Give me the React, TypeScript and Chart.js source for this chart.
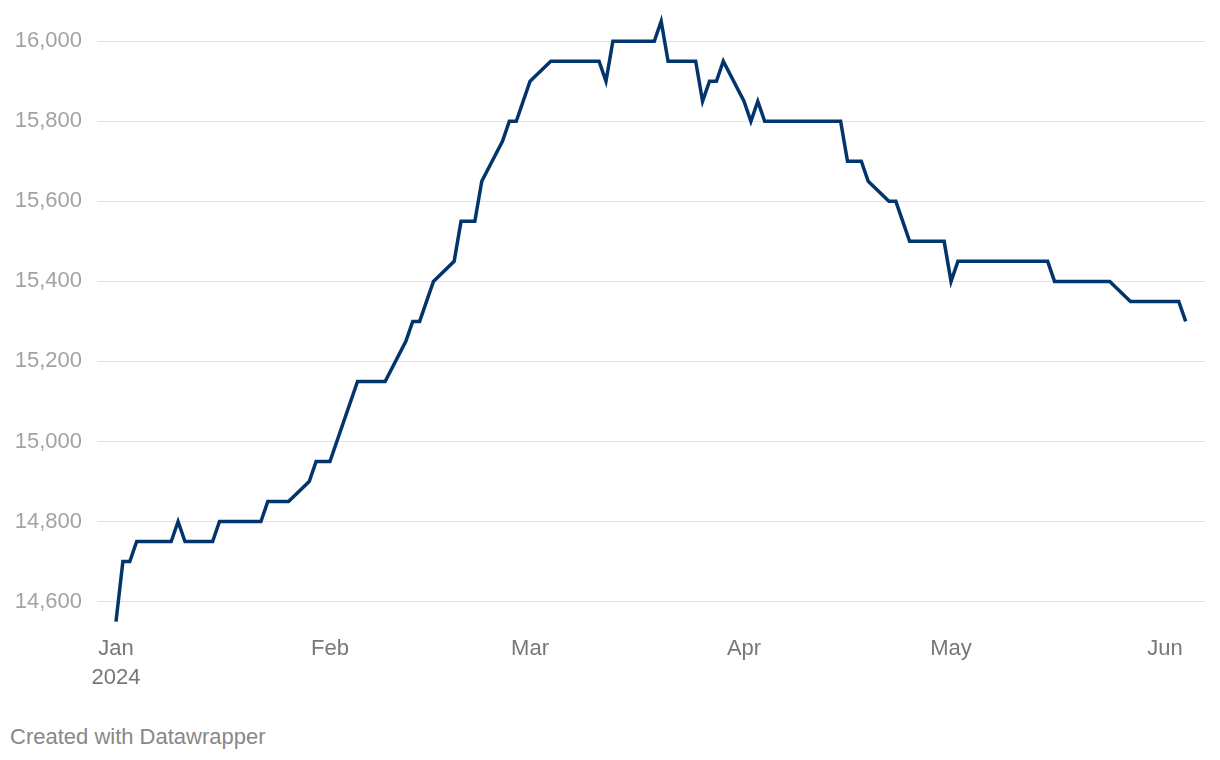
import React, { useEffect, useRef } from "react";
import { Chart, registerables } from "chart.js";

Chart.register(...registerables);

// day index from Jan 1, 2024 (0 = Jan 1)
const days = [
  0, 1, 2, 3, 8, 9, 10, 14, 15, 21, 22, 25, 28, 29, 31, 35, 39, 42, 43, 44, 46, 49, 50, 52, 53, 56, 57, 58,
  60, 63, 70, 71, 72, 78, 79, 80, 84, 85, 86, 87, 88, 91, 92, 93, 94, 105, 106, 108, 109, 112, 113, 115,
  120, 121, 122, 135, 136, 144, 147, 154, 155,
];
const values = [
  14550, 14700, 14700, 14750, 14750, 14800, 14750, 14750, 14800, 14800, 14850, 14850, 14900, 14950, 14950,
  15150, 15150, 15250, 15300, 15300, 15400, 15450, 15550, 15550, 15650, 15750, 15800, 15800,
  15900, 15950, 15950, 15900, 16000, 16000, 16050, 15950, 15950, 15850, 15900, 15900, 15950, 15850, 15800,
  15850, 15800, 15800, 15700, 15700, 15650, 15600, 15600, 15500,
  15500, 15400, 15450, 15450, 15400, 15400, 15350, 15350, 15300,
];
const monthTicks = [0, 31, 60, 91, 121, 152];
const monthLabels = ["Jan", "Feb", "Mar", "Apr", "May", "Jun"];
const yearLabel = "2024";
const yTicks = [14600, 14800, 15000, 15200, 15400, 15600, 15800, 16000];

const FONT = "'Liberation Sans', Arial, Helvetica, sans-serif";

export default function App() {
  const ref = useRef<HTMLCanvasElement | null>(null);
  useEffect(() => {
    if (!ref.current) return;
    const chart = new Chart(ref.current, {
      type: "line",
      data: {
        datasets: [
          {
            data: days.map((d, i) => ({ x: d, y: values[i] })),
            borderColor: "#02356b",
            borderWidth: 3.5,
            pointRadius: 0,
            tension: 0,
            fill: false,
          },
        ],
      },
      options: {
        animation: false,
        responsive: false,
        maintainAspectRatio: false,
        layout: { padding: { left: 0, right: 15, top: 0, bottom: 7 } },
        plugins: { legend: { display: false }, tooltip: { enabled: false } },
        scales: {
          x: {
            type: "linear",
            min: -2.75,
            max: 157.8,
            grid: { display: false, drawTicks: false },
            border: { display: false },
            afterBuildTicks: (scale: any) => {
              scale.ticks = monthTicks.map((v) => ({ value: v }));
            },
            ticks: {
              autoSkip: false,
              maxRotation: 0,
              padding: 8,
              color: "#777777",
              font: { family: FONT, size: 22, lineHeight: 1.35 },
              callback: (v: any) => {
                const i = monthTicks.indexOf(Number(v));
                if (i < 0) return "";
                return i === 0 ? [monthLabels[i], yearLabel] : monthLabels[i];
              },
            },
          },
          y: {
            type: "linear",
            min: 14540,
            max: 16070,
            grid: { color: "#e2e2e2", lineWidth: 1, drawTicks: false },
            border: { display: false },
            afterBuildTicks: (scale: any) => {
              scale.ticks = yTicks.map((v) => ({ value: v }));
            },
            afterFit: (scale: any) => {
              scale.width = 97;
            },
            ticks: {
              padding: 15,
              color: "#a3a3a3",
              font: { family: FONT, size: 22 },
              callback: (v: any) => Number(v).toLocaleString("en-US"),
            },
          },
        },
      },
    });
    return () => chart.destroy();
  }, []);
  return (
    <div style={{ position: "absolute", left: 0, top: 0, width: 1220, height: 760, background: "#fff", overflow: "hidden" }}>
      <canvas ref={ref} width={1220} height={723} style={{ position: "absolute", left: 0, top: -15, width: 1220, height: 723 }} />
      <div
        style={{
          position: "absolute",
          left: 10,
          top: 724,
          fontFamily: FONT,
          fontSize: 22,
          lineHeight: "26px",
          color: "#888888",
          whiteSpace: "nowrap",
        }}
      >
        Created with Datawrapper
      </div>
    </div>
  );
}
